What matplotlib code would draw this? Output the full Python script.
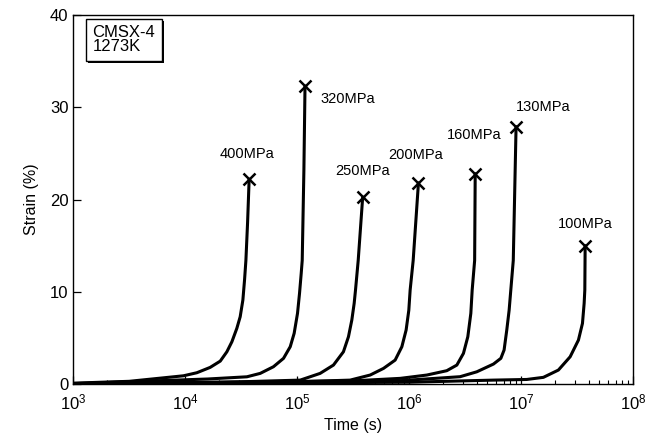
#!/usr/bin/env python3
# -*- coding: utf-8 -*-
"""CMSX-4 1273K creep curves: strain vs time (log scale)."""

import matplotlib

matplotlib.use("Agg")
import matplotlib.patheffects as pe
import matplotlib.pyplot as plt
from matplotlib.ticker import LogLocator, NullFormatter

# data: (log10 time, strain %) per stress level
STRESS_LABELS = ["400MPa", "320MPa", "250MPa", "200MPa", "160MPa", "130MPa", "100MPa"]

LOG_T_400 = [3.0, 3.5, 3.985, 4.104, 4.223, 4.313, 4.372, 4.417, 4.461, 4.491, 4.515,
             4.53, 4.542, 4.557, 4.571]
STRAIN_400 = [0.1, 0.3, 0.9, 1.23, 1.81, 2.49, 3.5, 4.59, 6.04, 7.3, 9.11,
              11.3, 13.4, 17.5, 22.2]

LOG_T_320 = [3.0, 4.2, 4.551, 4.67, 4.788, 4.878, 4.938, 4.973, 5.003, 5.021, 5.036,
             5.045, 5.06, 5.07]
STRAIN_320 = [0.05, 0.55, 0.79, 1.16, 1.88, 2.79, 4.05, 5.5, 7.67, 9.84, 12.0,
              13.4, 23.2, 32.3]

LOG_T_250 = [3.0, 4.5, 5.027, 5.205, 5.324, 5.413, 5.458, 5.488, 5.509, 5.521, 5.545, 5.585]
STRAIN_250 = [0.0, 0.25, 0.43, 1.16, 2.06, 3.5, 5.13, 6.94, 8.75, 10.2, 13.4, 20.25]

LOG_T_200 = [3.0, 5.0, 5.473, 5.652, 5.771, 5.875, 5.935, 5.973, 5.997, 6.009, 6.036, 6.083]
STRAIN_200 = [0.0, 0.25, 0.43, 0.98, 1.7, 2.6, 4.05, 5.86, 8.0, 10.2, 13.4, 21.8]

LOG_T_160 = [3.0, 5.5, 5.92, 6.158, 6.336, 6.426, 6.485, 6.524, 6.551, 6.563, 6.585, 6.59]
STRAIN_160 = [0.0, 0.35, 0.62, 0.98, 1.45, 2.06, 3.33, 5.13, 7.67, 10.2, 13.4, 22.8]

LOG_T_130 = [3.0, 5.9, 6.455, 6.604, 6.753, 6.819, 6.848, 6.872, 6.893, 6.908, 6.93, 6.955]
STRAIN_130 = [0.0, 0.35, 0.8, 1.33, 2.17, 2.79, 3.69, 5.86, 8.0, 10.2, 13.4, 27.9]

LOG_T_100 = [3.0, 6.0, 6.753, 7.05, 7.199, 7.333, 7.438, 7.512, 7.548, 7.563, 7.569,
             7.571, 7.572]
STRAIN_100 = [0.0, 0.2, 0.43, 0.5, 0.73, 1.52, 2.96, 4.77, 6.58, 8.75, 10.2,
              13.4, 15.0]

CURVES = [
    (LOG_T_400, STRAIN_400),
    (LOG_T_320, STRAIN_320),
    (LOG_T_250, STRAIN_250),
    (LOG_T_200, STRAIN_200),
    (LOG_T_160, STRAIN_160),
    (LOG_T_130, STRAIN_130),
    (LOG_T_100, STRAIN_100),
]

# label anchor (log10 time, strain) for each stress label
LABEL_LOG_T = [4.55, 5.45, 5.58, 6.06, 6.58, 7.2, 7.57]
LABEL_STRAIN = [24.9, 30.9, 23.1, 24.8, 27.0, 30.0, 17.4]


def configure_plot_style():
    plt.rcParams["font.family"] = ["Liberation Sans", "DejaVu Sans"]
    plt.rcParams["mathtext.fontset"] = "custom"
    plt.rcParams["mathtext.rm"] = "Liberation Sans"
    plt.rcParams["mathtext.it"] = "Liberation Sans"
    plt.rcParams["mathtext.default"] = "regular"


def main():
    configure_plot_style()
    fig = plt.figure(figsize=(6.54, 4.43), dpi=100)
    ax = fig.add_axes([0.112, 0.133, 0.856, 0.833])

    for log_t, strain in CURVES:
        t = [10 ** v for v in log_t]
        ax.plot(t, strain, color="black", linewidth=2.2, solid_capstyle="round",
                solid_joinstyle="round")
        ax.plot(t[-1], strain[-1], marker="x", color="black", markersize=9, markeredgewidth=1.8)

    for lt, s, label in zip(LABEL_LOG_T, LABEL_STRAIN, STRESS_LABELS):
        ax.text(10 ** lt, s, label, ha="center", va="center", fontsize=10.5)

    ax.set_xscale("log")
    ax.set_xlim(1e3, 1e8)
    ax.set_ylim(0, 40)
    ax.set_yticks([0, 10, 20, 30, 40])
    ax.xaxis.set_major_locator(LogLocator(base=10, numticks=10))
    ax.xaxis.set_minor_locator(LogLocator(base=10, subs=range(2, 10), numticks=20))
    ax.xaxis.set_minor_formatter(NullFormatter())
    ax.tick_params(axis="both", which="major", direction="in", length=6, width=0.9,
                   labelsize=12, top=False, right=False)
    ax.tick_params(axis="x", which="minor", direction="in", length=3, width=0.8, top=False)
    ax.tick_params(axis="x", which="major", pad=6)
    for side in ax.spines.values():
        side.set_linewidth(1.0)

    ax.set_xlabel("Time (s)", fontsize=11.5, labelpad=4)
    ax.set_ylabel("Strain (%)", fontsize=11.5, labelpad=8)

    box = ax.text(0.034, 0.972, "CMSX-4\n1273K", transform=ax.transAxes, ha="left", va="top",
                  fontsize=12, linespacing=0.92,
                  bbox=dict(boxstyle="square,pad=0.4", facecolor="white", edgecolor="black",
                            linewidth=1.0))
    box.get_bbox_patch().set_path_effects([
        pe.SimplePatchShadow(offset=(1.5, -1.5), shadow_rgbFace="black", alpha=1.0),
        pe.Normal(),
    ])

    fig.savefig("out.png", dpi=100)
    plt.close(fig)


if __name__ == "__main__":
    main()
